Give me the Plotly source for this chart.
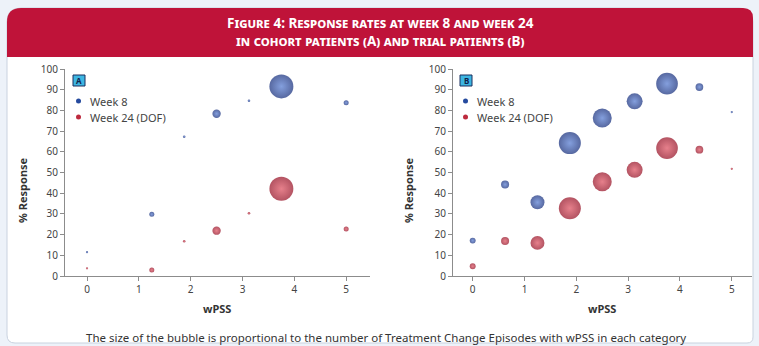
import plotly.graph_objects as go

W, H = 759, 346

# ---------------- data ----------------
# Panel A: cohort patients
a_wpss = [0, 1.25, 1.875, 2.5, 3.125, 3.75, 5]
a_week8 = [11.5, 29.8, 67.3, 78.4, 84.7, 91.6, 83.7]
a_week24 = [3.7, 2.9, 16.8, 21.9, 30.3, 42.1, 22.7]
a_episodes = [1, 5, 1.3, 14, 1.3, 115, 5]

# Panel B: trial patients
b_wpss = [0, 0.625, 1.25, 1.875, 2.5, 3.125, 3.75, 4.375, 5]
b_week8 = [17.1, 44.2, 35.6, 64.2, 76.3, 84.4, 92.9, 91.3, 79.2]
b_week24 = [4.7, 16.9, 16.0, 32.7, 45.5, 51.3, 61.8, 61.0, 51.8]
b_episodes = [7, 13, 39, 97, 72, 51, 94, 12, 1]

series_names = ["Week 8", "Week 24 (DOF)"]
x_ticks = [0, 1, 2, 3, 4, 5]
y_ticks = list(range(0, 101, 10))

title_lines = ["Figure 4: Response rates at week 8 and week 24",
               "in cohort patients (A) and trial patients (B)"]
footnote = ("The size of the bubble is proportional to the number of Treatment "
            "Change Episodes with wPSS in each category")

# ---------------- helpers ----------------
def px(x):
    return x / W

def py(y):
    return 1 - y / H

BLUE_EDGE, BLUE_CENTER = "#0f2878", "#4f76cf"
RED_EDGE, RED_CENTER = "#930a1f", "#dc4a5a"
CREAM = "#fcf0d3"
HEADER = "#bf1339"
AX = "#8c8c8c"
TXT = "#444444"
NARROW = "Liberation Sans Narrow, Noto Sans, sans-serif"
SANS = "Noto Sans, sans-serif"

fig = go.Figure()

def add_panel(xs, y8, y24, eps, xa, ya):
    for ys, edge, center, name in [(y8, BLUE_EDGE, BLUE_CENTER, series_names[0]),
                                   (y24, RED_EDGE, RED_CENTER, series_names[1])]:
        fig.add_trace(go.Scatter(
            x=xs, y=ys, mode="markers", name=name, showlegend=False,
            xaxis=xa, yaxis=ya, cliponaxis=False,
            marker=dict(size=eps, sizemode="area", sizeref=0.4,
                        color=edge, line=dict(width=0),
                        gradient=dict(type="radial", color=center)),
        ))

add_panel(a_wpss, a_week8, a_week24, a_episodes, "x", "y")
add_panel(b_wpss, b_week8, b_week24, b_episodes, "x2", "y2")

axis_common = dict(showline=True, linecolor=AX, linewidth=1, ticks="outside",
                   ticklen=4, tickcolor=AX, showgrid=False, zeroline=False,
                   automargin=False,
                   tickfont=dict(family=SANS, size=10, color=TXT))

ydom = [py(276), py(69)]
fig.update_layout(
    width=W, height=H, autosize=False,
    margin=dict(l=0, r=0, t=0, b=0, pad=0, autoexpand=False),
    paper_bgcolor="#edf2f9",
    plot_bgcolor=CREAM,
    showlegend=False,
    xaxis=dict(domain=[px(65), px(370)], range=[-0.425, 5.46],
               tickvals=x_ticks, anchor="y", **axis_common),
    yaxis=dict(domain=ydom, range=[0, 100], tickvals=y_ticks, anchor="x",
               **axis_common),
    xaxis2=dict(domain=[px(453), px(752)], range=[-0.38, 5.39],
                tickvals=x_ticks, anchor="y2", **axis_common),
    yaxis2=dict(domain=ydom, range=[0, 100], tickvals=y_ticks, anchor="x2",
                **axis_common),
)

shapes = []
# white card with rounded corners
L, R, T, B = 7, 753, 8, 343
r = 14
card = (f"M {px(L)} {py(T + r)} Q {px(L)} {py(T)} {px(L + r)} {py(T)} "
        f"L {px(R - r)} {py(T)} Q {px(R)} {py(T)} {px(R)} {py(T + r)} "
        f"L {px(R)} {py(B - 6)} Q {px(R)} {py(B)} {px(R - 6)} {py(B)} "
        f"L {px(L + 8)} {py(B)} Q {px(L)} {py(B)} {px(L)} {py(B - 8)} Z")
shapes.append(dict(type="path", path=card, xref="paper", yref="paper",
                   fillcolor="white", line=dict(color="#c9d2df", width=1),
                   layer="below"))
hb = 57
header = (f"M {px(L)} {py(hb)} L {px(L)} {py(T + r)} Q {px(L)} {py(T)} {px(L + r)} {py(T)} "
          f"L {px(R - 10)} {py(T)} Q {px(R)} {py(T)} {px(R)} {py(T + 10)} "
          f"L {px(R)} {py(hb)} Z")
shapes.append(dict(type="path", path=header, xref="paper", yref="paper",
                   fillcolor=HEADER, line=dict(width=0), layer="below"))

annotations = [dict(
    text="<br>".join(title_lines), x=px(380), y=py(32), xref="paper",
    yref="paper", showarrow=False, xanchor="center", yanchor="middle",
    align="center",
    font=dict(family=NARROW, size=13.5, color="white", weight="bold",
              variant="small-caps"))]

# legends & badges (panel-local, in pixel positions)
for letter, lx, ylab_x, wx in [("A", 70, 22, 217), ("B", 457, 408, 602)]:
    shapes.append(dict(type="rect", xref="paper", yref="paper",
                       x0=px(lx), x1=px(lx + 97), y0=py(128), y1=py(93),
                       fillcolor="rgba(255,255,255,0.9)", line=dict(width=0)))
    bx = lx + 3
    shapes.append(dict(type="rect", xref="paper", yref="paper",
                       x0=px(bx), x1=px(bx + 12), y0=py(86), y1=py(75),
                       fillcolor="#3db6e2", line=dict(color="#1b2f5e", width=1)))
    annotations.append(dict(text=f"<b>{letter}</b>", x=px(bx + 6), y=py(80.5),
                            xref="paper", yref="paper", showarrow=False,
                            xanchor="center", yanchor="middle",
                            font=dict(family=SANS, size=8, color="#10214a")))
    for j, (name, col) in enumerate([(series_names[0], "#254a9e"),
                                     (series_names[1], "#bd2a3e")]):
        cy = 101 + 16 * j
        shapes.append(dict(type="circle", xref="paper", yref="paper",
                           x0=px(lx + 6), x1=px(lx + 11), y0=py(cy + 2.5),
                           y1=py(cy - 2.5), fillcolor=col, line=dict(width=0)))
        annotations.append(dict(text=name, x=px(lx + 18), y=py(cy),
                                xref="paper", yref="paper", showarrow=False,
                                xanchor="left", yanchor="middle",
                                font=dict(family=SANS, size=11, color=TXT)))
    annotations.append(dict(text="<b>% Response</b>", x=px(ylab_x), y=py(190),
                            xref="paper", yref="paper", showarrow=False,
                            textangle=-90, xanchor="center", yanchor="middle",
                            font=dict(family=NARROW, size=11, color="#333333")))
    annotations.append(dict(text="<b>wPSS</b>", x=px(wx), y=py(308),
                            xref="paper", yref="paper", showarrow=False,
                            xanchor="center", yanchor="middle",
                            font=dict(family=NARROW, size=11, color="#333333")))

annotations.append(dict(text=footnote, x=px(386), y=py(337), xref="paper",
                        yref="paper", showarrow=False, xanchor="center",
                        yanchor="middle",
                        font=dict(family=NARROW, size=11.5, color="#333333")))

fig.update_layout(shapes=shapes, annotations=annotations)
fig.write_html("out.html", config={"displayModeBar": False},
               post_script="document.body.style.margin='0';"
                           "document.body.style.overflow='hidden';")
